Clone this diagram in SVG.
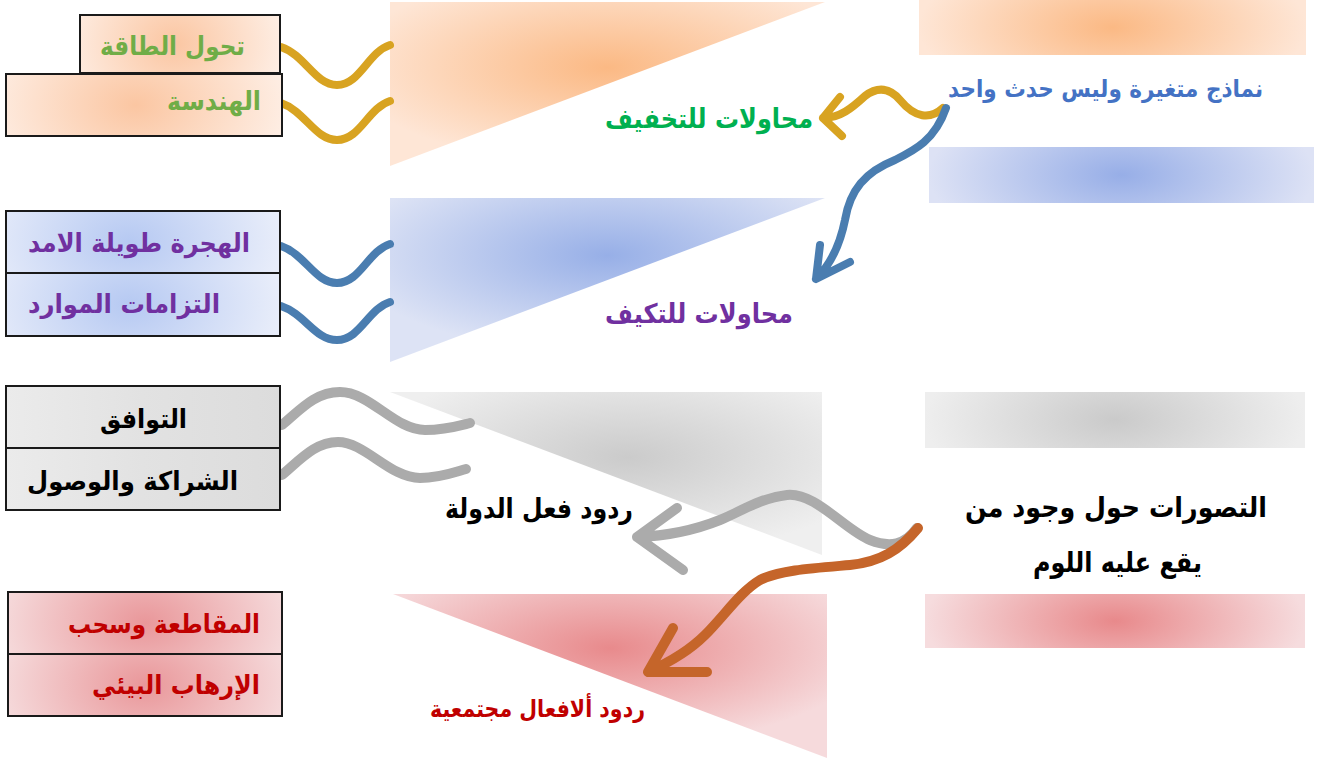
<svg xmlns="http://www.w3.org/2000/svg" width="1318" height="761" viewBox="0 0 1318 761">
<defs>
<style>
.lbl{font-family:"DejaVu Sans","Liberation Sans",sans-serif;font-weight:bold;}
.box{stroke:#1a1a1a;stroke-width:2;}
.wave{fill:none;stroke-linecap:round;stroke-linejoin:round;}
.gold{stroke:#D8A321;stroke-width:8;}
.blue{stroke:#4A7DB0;stroke-width:8;}
.gray{stroke:#ABABAB;stroke-width:10;}
.rust{stroke:#C5652A;stroke-width:10;}
</style>
<radialGradient id="lOr" cx="0.5" cy="0.5" r="0.5" gradientTransform="translate(0.5 0.5) scale(1 3) translate(-0.5 -0.5)"><stop offset="0" stop-color="#FBB984"/><stop offset="1" stop-color="#FEE6D6"/></radialGradient>
<radialGradient id="lBl" cx="0.5" cy="0.5" r="0.5" gradientTransform="translate(0.5 0.5) scale(1 3) translate(-0.5 -0.5)"><stop offset="0" stop-color="#97AEE7"/><stop offset="1" stop-color="#DDE2F5"/></radialGradient>
<radialGradient id="lGr" cx="0.5" cy="0.5" r="0.5" gradientTransform="translate(0.5 0.5) scale(1 3) translate(-0.5 -0.5)"><stop offset="0" stop-color="#CACACA"/><stop offset="1" stop-color="#EEEEEE"/></radialGradient>
<radialGradient id="lRd" cx="0.5" cy="0.5" r="0.5" gradientTransform="translate(0.5 0.5) scale(1 3) translate(-0.5 -0.5)"><stop offset="0" stop-color="#E8898B"/><stop offset="1" stop-color="#F6DCDE"/></radialGradient>
<radialGradient id="bOr" cx="0.47" cy="0.5" r="0.55" gradientTransform="translate(0.5 0.5) scale(1 3) translate(-0.5 -0.5)"><stop offset="0" stop-color="#FBC6A2"/><stop offset="1" stop-color="#FEEEE4"/></radialGradient>
<radialGradient id="bBl" cx="0.45" cy="0.5" r="0.55" gradientTransform="translate(0.5 0.5) scale(1 3) translate(-0.5 -0.5)"><stop offset="0" stop-color="#B6C9F2"/><stop offset="1" stop-color="#E8EDFA"/></radialGradient>
<linearGradient id="bGr" x1="0" y1="0" x2="1" y2="0"><stop offset="0" stop-color="#EBEBEB"/><stop offset="0.5" stop-color="#E2E2E2"/><stop offset="1" stop-color="#DCDCDC"/></linearGradient>
<radialGradient id="bRd" cx="0.5" cy="0.5" r="0.55" gradientTransform="translate(0.5 0.5) scale(1 3) translate(-0.5 -0.5)"><stop offset="0" stop-color="#E9979A"/><stop offset="1" stop-color="#F6DDDE"/></radialGradient>
<radialGradient id="tOr" cx="0.5" cy="0.4" r="0.6"><stop offset="0" stop-color="#FBB984"/><stop offset="1" stop-color="#FEE6D6"/></radialGradient>
<radialGradient id="tBl" cx="0.5" cy="0.35" r="0.6"><stop offset="0" stop-color="#97AFE7"/><stop offset="1" stop-color="#DDE3F5"/></radialGradient>
<radialGradient id="tGr" cx="0.55" cy="0.4" r="0.6"><stop offset="0" stop-color="#CBCBCB"/><stop offset="1" stop-color="#EFEFEF"/></radialGradient>
<radialGradient id="tRd" cx="0.5" cy="0.33" r="0.6"><stop offset="0" stop-color="#E88A8C"/><stop offset="1" stop-color="#F6DADC"/></radialGradient>
</defs>
<rect width="1318" height="761" fill="#ffffff"/>

<g id="shapes">
<polygon id="tri-orange" points="390,2 825,2 390,166" fill="url(#tOr)"/>
<polygon id="tri-blue" points="390,198 825,198 390,362" fill="url(#tBl)"/>
<polygon id="tri-gray" points="390,392 822,392 822,555" fill="url(#tGr)"/>
<polygon id="tri-red" points="393,594 827,594 827,758" fill="url(#tRd)"/>
<rect id="bar-orange" x="919" y="0" width="387" height="55" fill="url(#lOr)"/>
<rect id="bar-blue" x="929" y="147" width="385" height="56" fill="url(#lBl)"/>
<rect id="bar-gray" x="925" y="392" width="380" height="56" fill="url(#lGr)"/>
<rect id="bar-red" x="925" y="594" width="380" height="54" fill="url(#lRd)"/>
</g>

<g id="connectors">
<path class="wave gold" d="M281,47 C305,55 315,85 337,85 C360,85 368,52 390,45"/>
<path class="wave gold" d="M281,103 C305,111 315,140 337,140 C360,140 368,108 390,101"/>
<path class="wave blue" d="M281,246 C305,254 315,283 337,283 C360,283 368,251 390,244"/>
<path class="wave blue" d="M281,306 C305,314 315,340 337,340 C360,340 368,309 390,302"/>
<path class="wave gray" d="M282,425 C300,410 315,392 340,392 C370,392 395,430 425,430 C445,430 458,426 470,423"/>
<path class="wave gray" d="M282,475 C300,460 315,442 338,442 C365,442 390,478 420,478 C440,478 455,472 466,469"/>
<path class="wave gold" d="M943,108 C930,120 915,118 900,100 C890,88 878,86 865,96 C852,108 840,118 823,118 M840,97 L823,118 L842,136"/>
<path class="wave blue" d="M946,108 C935,140 915,150 895,160 C865,172 850,190 845,220 C840,245 830,265 816,279 M820,245 L816,279 L850,262"/>
<path class="wave gray" d="M917,528 C905,545 890,548 870,540 C845,530 815,492 787,495 C760,498 740,512 720,520 C695,530 665,536 637,537 M677,508 L637,537 L683,570"/>
<path class="wave rust" d="M918,528 C900,550 880,562 850,565 C815,568 780,570 760,580 C740,592 725,615 705,635 C690,650 670,662 648,672 M673,628 L648,672 L707,672"/>
</g>

<g id="node-energy"><rect class="box" x="80" y="15" width="200" height="58" fill="url(#bOr)"/><text class="lbl" x="245" y="55" text-anchor="end" font-size="26" fill="#70AD47" textLength="145" lengthAdjust="spacingAndGlyphs">تحول الطاقة</text></g>
<g id="node-engineering"><rect class="box" x="6" y="74" width="276" height="62" fill="url(#bOr)"/><text class="lbl" x="261" y="110" text-anchor="end" font-size="26" fill="#70AD47" textLength="94" lengthAdjust="spacingAndGlyphs">الهندسة</text></g>
<g id="node-migration"><rect class="box" x="6" y="211" width="274" height="62" fill="url(#bBl)"/><text class="lbl" x="250" y="252" text-anchor="end" font-size="26" fill="#7030A0" textLength="222" lengthAdjust="spacingAndGlyphs">الهجرة طويلة الامد</text></g>
<g id="node-resources"><rect class="box" x="6" y="273" width="274" height="63" fill="url(#bBl)"/><text class="lbl" x="220" y="313" text-anchor="end" font-size="26" fill="#7030A0" textLength="192" lengthAdjust="spacingAndGlyphs">التزامات الموارد</text></g>
<g id="node-consensus"><rect class="box" x="6" y="386" width="274" height="62" fill="url(#bGr)"/><text class="lbl" x="187" y="428" text-anchor="end" font-size="26" fill="#000000" textLength="87" lengthAdjust="spacingAndGlyphs">التوافق</text></g>
<g id="node-partnership"><rect class="box" x="6" y="448" width="274" height="62" fill="url(#bGr)"/><text class="lbl" x="238" y="490" text-anchor="end" font-size="26" fill="#000000" textLength="211" lengthAdjust="spacingAndGlyphs">الشراكة والوصول</text></g>
<g id="node-boycott"><rect class="box" x="8" y="592" width="274" height="62" fill="url(#bRd)"/><text class="lbl" x="260" y="633" text-anchor="end" font-size="26" fill="#C00000" textLength="192" lengthAdjust="spacingAndGlyphs">المقاطعة وسحب</text></g>
<g id="node-ecoterror"><rect class="box" x="8" y="654" width="274" height="62" fill="url(#bRd)"/><text class="lbl" x="260" y="694" text-anchor="end" font-size="26" fill="#C00000" textLength="168" lengthAdjust="spacingAndGlyphs">الإرهاب البيئي</text></g>

<g id="label-models"><text class="lbl" x="1263" y="97" text-anchor="end" font-size="24" fill="#4472C4" textLength="315" lengthAdjust="spacingAndGlyphs">نماذج متغيرة وليس حدث واحد</text></g>
<g id="label-mitigation"><text class="lbl" x="813" y="128" text-anchor="end" font-size="27" fill="#00B050" textLength="208" lengthAdjust="spacingAndGlyphs">محاولات للتخفيف</text></g>
<g id="label-adaptation"><text class="lbl" x="793" y="323" text-anchor="end" font-size="27" fill="#7030A0" textLength="188" lengthAdjust="spacingAndGlyphs">محاولات للتكيف</text></g>
<g id="label-state"><text class="lbl" x="633" y="518" text-anchor="end" font-size="27" fill="#000000" textLength="188" lengthAdjust="spacingAndGlyphs">ردود فعل الدولة</text></g>
<g id="label-blame"><text class="lbl" x="1267" y="517" text-anchor="end" font-size="28" fill="#000000" textLength="302" lengthAdjust="spacingAndGlyphs">التصورات حول وجود من</text><text class="lbl" x="1202" y="572" text-anchor="end" font-size="28" fill="#000000" textLength="169" lengthAdjust="spacingAndGlyphs">يقع عليه اللوم</text></g>
<g id="label-society"><text class="lbl" x="645" y="717" text-anchor="end" font-size="24" fill="#C00000" textLength="215" lengthAdjust="spacingAndGlyphs">ردود ألافعال مجتمعية</text></g>
</svg>
